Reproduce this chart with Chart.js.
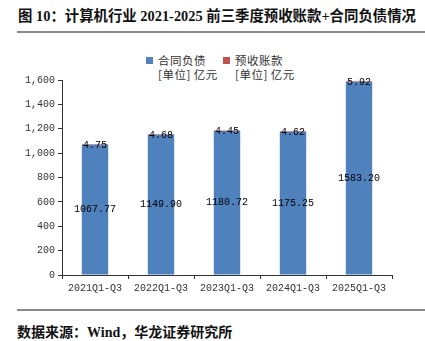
<!DOCTYPE html>
<html>
<head>
<meta charset="utf-8">
<script src="https://cdn.jsdelivr.net/npm/chart.js@4/dist/chart.umd.min.js"></script>
<style>
  html, body { margin: 0; padding: 0; background: #fff; }
  body { width: 425px; height: 341px; position: relative; overflow: hidden; }
  .title {
    position: absolute; left: 18px; top: 4px; white-space: nowrap;
    font: bold 14.4px "Liberation Serif", "Noto Sans CJK SC", serif; color: #111;
  }
  .rule { position: absolute; left: 17px; right: 0; height: 2px; background: #8a8a8a; }
  .source {
    position: absolute; left: 17px; top: 321px; white-space: nowrap;
    font: bold 14px "Liberation Serif", "Noto Sans CJK SC", serif; color: #111;
  }
  .legend { position: absolute; top: 53px; font: 11.5px "Noto Sans CJK SC", sans-serif; color: #333; line-height: 14px; letter-spacing: 0.5px; }
  .legend i { position: absolute; left: -12px; top: 4px; width: 7px; height: 7px; }
  #wrap { position: absolute; left: 0; top: 40px; width: 425px; height: 262px; }
</style>
</head>
<body>
<div class="title">图 10：计算机行业 2021-2025 前三季度预收账款+合同负债情况</div>
<div class="rule" style="top:31px"></div>
<div id="legend"></div>
<div id="wrap"><canvas id="bar"></canvas></div>
<div class="rule" style="top:309px"></div>
<div class="source">数据来源：Wind，华龙证券研究所</div>
<script>
const periods = ['2021Q1-Q3', '2022Q1-Q3', '2023Q1-Q3', '2024Q1-Q3', '2025Q1-Q3'];
const contractLiab = [1067.77, 1149.90, 1180.72, 1175.25, 1583.20];
const advanceRecv = [4.75, 4.68, 4.45, 4.62, 5.92];
const seriesNames = ['合同负债', '预收账款'];
const seriesColors = ['#4f81bd', '#c0504d'];
const unitText = '[单位]&nbsp;亿元';

const monoFont = { family: '"Liberation Mono", "DejaVu Sans Mono", monospace', size: 10 };

// html legend, two lines per item
const legendX = [158, 235];
const legendEl = document.getElementById('legend');
seriesNames.forEach((name, i) => {
  const d = document.createElement('div');
  d.className = 'legend';
  d.style.left = legendX[i] + 'px';
  d.innerHTML = '<i style="background:' + seriesColors[i] + '"></i>' + name + '<br>' + unitText;
  legendEl.appendChild(d);
});

// values printed on the bars: bottom series centred, top series at the stack top
const barValues = {
  id: 'barValues',
  afterDatasetsDraw(chart) {
    const ctx = chart.ctx;
    ctx.save();
    ctx.font = monoFont.size + 'px ' + monoFont.family;
    ctx.fillStyle = '#000';
    ctx.textAlign = 'center';
    ctx.textBaseline = 'middle';
    chart.data.datasets.forEach((ds, di) => {
      chart.getDatasetMeta(di).data.forEach((bar, i) => {
        const txt = ds.data[i].toFixed(2);
        const y = di === 0 ? (bar.y + bar.base) / 2 : bar.y + 1;
        ctx.fillText(txt, bar.x, y);
      });
    });
    ctx.restore();
  }
};

new Chart(document.getElementById('bar'), {
  type: 'bar',
  data: {
    labels: periods,
    datasets: [
      { label: seriesNames[0], data: contractLiab, backgroundColor: seriesColors[0] },
      { label: seriesNames[1], data: advanceRecv, backgroundColor: seriesColors[1] }
    ]
  },
  options: {
    responsive: true,
    maintainAspectRatio: false,
    animation: false,
    barPercentage: 0.4,
    categoryPercentage: 1,
    layout: { padding: { top: 40, right: 33, left: 0, bottom: 0 } },
    plugins: { legend: { display: false }, tooltip: { enabled: false } },
    scales: {
      x: {
        stacked: true,
        afterFit: s => { s.height = 27; },
        border: { color: '#333', width: 1 },
        grid: { offset: true, drawOnChartArea: false, tickLength: 4, color: '#333' },
        ticks: { color: '#333', font: monoFont, padding: 3, maxRotation: 0 }
      },
      y: {
        stacked: true,
        min: 0,
        max: 1600,
        afterFit: s => { s.width = 62; },
        border: { color: '#333', width: 1 },
        grid: { drawOnChartArea: false, tickLength: 4, color: '#333' },
        ticks: {
          stepSize: 200, color: '#333', font: monoFont, padding: 3,
          callback: v => v.toLocaleString('en-US')
        }
      }
    }
  },
  plugins: [barValues]
});
</script>
</body>
</html>
